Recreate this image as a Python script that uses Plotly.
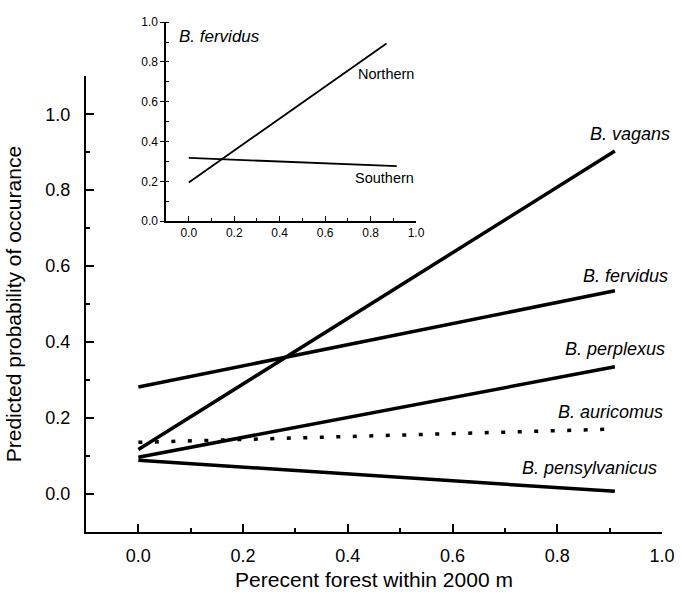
import plotly.graph_objects as go

# ---- data ----
species = ["B. vagans", "B. fervidus", "B. perplexus", "B. auricomus", "B. pensylvanicus"]
forest_x = [0.0, 0.91]
vagans = [0.117, 0.903]
fervidus = [0.282, 0.535]
perplexus = [0.097, 0.335]
auricomus = [0.136, 0.171]
pensylvanicus = [0.089, 0.007]

inset_groups = ["Northern", "Southern"]
northern_x = [0.0, 0.87]
northern_y = [0.195, 0.893]
southern_x = [0.0, 0.915]
southern_y = [0.318, 0.277]

main_ticks = [0.0, 0.2, 0.4, 0.6, 0.8, 1.0]
inset_ticks = [0.0, 0.2, 0.4, 0.6, 0.8, 1.0]

# label anchor positions (layout only, in x-axis units; converted to paper fraction)
X_RANGE = [-0.1, 1.0]
label_x = [1.02, 1.015, 1.01, 1.005, 0.995]
label_y = [0.948, 0.575, 0.383, 0.217, 0.069]

FONT = "Arial, Liberation Sans, sans-serif"

fig = go.Figure()
series = [vagans, fervidus, perplexus, auricomus, pensylvanicus]
for name, ys in zip(species, series):
    dash = "4px,12.5px" if name == "B. auricomus" else "solid"
    fig.add_trace(go.Scatter(x=forest_x, y=ys, mode="lines", name=name,
                             line=dict(color="black", width=3.5, dash=dash),
                             xaxis="x", yaxis="y", showlegend=False))

fig.add_trace(go.Scatter(x=northern_x, y=northern_y, mode="lines", name="Northern",
                         line=dict(color="black", width=1.8),
                         xaxis="x2", yaxis="y2", showlegend=False))
fig.add_trace(go.Scatter(x=southern_x, y=southern_y, mode="lines", name="Southern",
                         line=dict(color="black", width=1.8),
                         xaxis="x2", yaxis="y2", showlegend=False))

annotations = []
for name, lx, ly in zip(species, label_x, label_y):
    px = (lx - X_RANGE[0]) / (X_RANGE[1] - X_RANGE[0])
    annotations.append(dict(x=px, y=ly, xref="paper", yref="y", text=name, showarrow=False,
                            xanchor="right", yanchor="middle",
                            font=dict(family=FONT, size=18, color="black", style="italic")))
annotations.append(dict(x=-0.05, y=0.93, xref="x2", yref="y2", text="B. fervidus",
                        showarrow=False, xanchor="left", yanchor="middle",
                        font=dict(family=FONT, size=17, color="black", style="italic")))
annotations.append(dict(x=1.0, y=0.738, xref="x2", yref="y2", text=inset_groups[0],
                        showarrow=False, xanchor="right", yanchor="middle",
                        font=dict(family=FONT, size=14.5, color="black")))
annotations.append(dict(x=1.0, y=0.218, xref="x2", yref="y2", text=inset_groups[1],
                        showarrow=False, xanchor="right", yanchor="middle",
                        font=dict(family=FONT, size=14.5, color="black")))

main_axis = dict(showline=True, linecolor="black", linewidth=2, showgrid=False, zeroline=False,
                 ticks="inside", ticklen=8, tickwidth=2, tickcolor="black",
                 tickfont=dict(family=FONT, size=18, color="black"), tickformat=".1f",
                 minor=dict(ticks="inside", ticklen=4, tickwidth=2, tickcolor="black",
                            dtick=0.1, tick0=0, showgrid=False))

fig.update_layout(
    width=686, height=598,
    margin=dict(l=86, r=24, t=10, b=66),
    paper_bgcolor="white", plot_bgcolor="rgba(0,0,0,0)",
    font=dict(family=FONT, color="black"),
    xaxis=dict(main_axis, domain=[0, 1], range=X_RANGE, tickvals=main_ticks, anchor="y",
               ticklabelstandoff=6,
               title=dict(text="Perecent forest within 2000 m", font=dict(family=FONT, size=21),
                          standoff=8)),
    yaxis=dict(main_axis, domain=[0, 0.885], range=[-0.1, 1.1], tickvals=main_ticks, anchor="x",
               ticklabelstandoff=10,
               title=dict(text="Predicted probability of occurance", font=dict(family=FONT, size=21),
                          standoff=18)),
    xaxis2=dict(domain=[0.139, 0.573], range=[-0.1, 1.0], anchor="y2", tickvals=inset_ticks,
                showline=True, linecolor="black", linewidth=1.5, showgrid=False, zeroline=False,
                ticks="inside", ticklen=5, tickwidth=1.2, tickcolor="black",
                tickfont=dict(family=FONT, size=12, color="black"), tickformat=".1f",
                minor=dict(ticks="inside", ticklen=3, tickwidth=1.2, tickcolor="black",
                           dtick=0.1, tick0=0, showgrid=False)),
    yaxis2=dict(domain=[0.6034, 0.99], range=[0, 1.0], anchor="x2", tickvals=inset_ticks,
                showline=True, linecolor="black", linewidth=1.5, showgrid=False, zeroline=False,
                ticks="outside", ticklen=4, tickwidth=1.2, tickcolor="black",
                tickfont=dict(family=FONT, size=12, color="black"), tickformat=".1f",
                minor=dict(ticks="inside", ticklen=3, tickwidth=1.2, tickcolor="black",
                           dtick=0.1, tick0=0, showgrid=False)),
    annotations=annotations,
)

fig.write_html("out.html")
